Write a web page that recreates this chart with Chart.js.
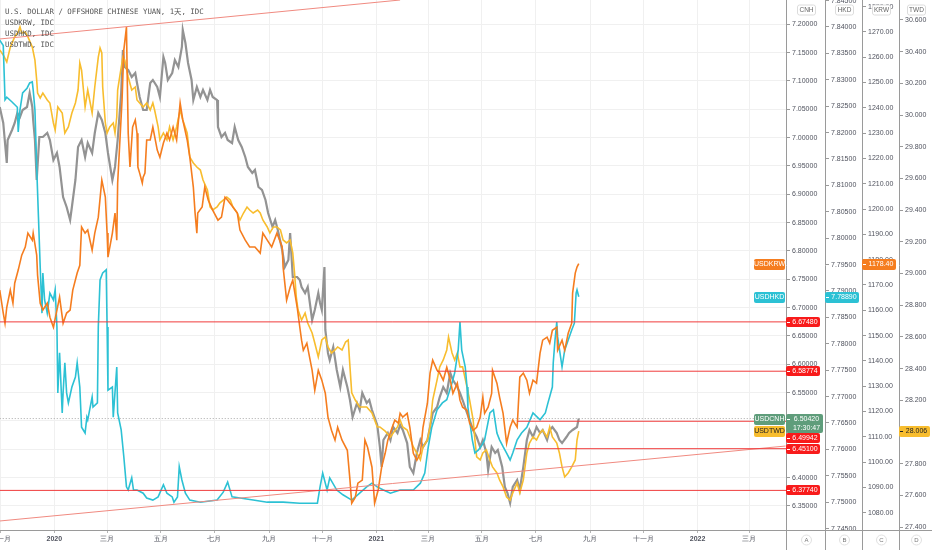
<!DOCTYPE html>
<html>
<head>
<meta charset="utf-8">
<script src="https://cdn.jsdelivr.net/npm/chart.js@4.4.1/dist/chart.umd.min.js"></script>
<style>
  html, body { margin: 0; padding: 0; background: #fff; overflow: hidden; }
  #wrap { width: 932px; height: 550px; position: relative; }
</style>
</head>
<body>
<div id="wrap"><canvas id="chart"></canvas></div>
<script>
// x values are days since 2020-01-01 (daily candles)
const tickDays  = [-61, 0, 60, 121, 182, 244, 305, 366, 425, 486, 547, 609, 670, 731, 790];
const tickNames = ['十一月', '2020', '三月', '五月', '七月', '九月', '十一月', '2021', '三月', '五月', '七月', '九月', '十一月', '2022', '三月'];

const cnhTicks = [6.35, 6.40, 6.45, 6.50, 6.55, 6.60, 6.65, 6.70, 6.75, 6.80, 6.85, 6.90, 6.95, 7.00, 7.05, 7.10, 7.15, 7.20];
const hkdTicks = [7.745, 7.750, 7.755, 7.760, 7.765, 7.770, 7.775, 7.780, 7.785, 7.790, 7.795, 7.800, 7.805, 7.810, 7.815, 7.820, 7.825, 7.830, 7.835, 7.840, 7.845];
const krwTicks = [1080, 1090, 1100, 1110, 1120, 1130, 1140, 1150, 1160, 1170, 1180, 1190, 1200, 1210, 1220, 1230, 1240, 1250, 1260, 1270, 1280];
const twdTicks = [27.4, 27.6, 27.8, 28.0, 28.2, 28.4, 28.6, 28.8, 29.0, 29.2, 29.4, 29.6, 29.8, 30.0, 30.2, 30.4, 30.6];

const cnhDays = [-62,-58,-54,-53,-48,-45,-42,-39,-36,-31,-28,-25,-24,-22,-20,-17,-13,-8,-5,-1,3,6,10,14,18,20,24,27,31,35,38,43,46,50,54,58,61,66,69,72,76,78,80,84,88,92,94,97,101,105,109,112,117,120,124,126,129,134,137,141,145,146,149,152,156,158,162,166,169,174,177,180,185,186,190,194,197,202,205,209,213,217,220,225,228,232,236,240,243,248,251,254,259,262,266,268,271,276,279,281,285,288,293,296,300,302,304,307,308,311,313,317,321,325,328,333,336,339,344,347,350,355,358,361,367,370,372,374,379,382,385,390,393,396,401,404,408,412,416,419,424,427,430,435,438,442,446,450,453,458,461,464,469,472,476,480,484,487,491,493,497,501,504,509,512,515,518,521,526,529,533,537,540,544,548,552,555,560,563,566,571,574,577,582,585,589,594,596];
const cnhClose = [7.0541,7.0258,6.9552,6.9958,7.0135,7.0258,7.0435,7.0364,7.0488,7.0541,7.0788,7.0541,7.0311,6.9958,6.9252,7.0011,7.0011,7.0082,6.9958,6.9605,6.9729,6.9482,6.8952,6.8776,6.8546,6.8776,6.9252,6.9835,6.9958,6.9658,6.9905,6.9729,7.0082,7.0435,7.0311,7.0082,6.9729,6.9252,6.9482,6.9958,7.0788,7.1547,7.1246,7.1194,7.1070,7.1141,7.0964,7.0717,7.0488,7.0488,7.0964,7.1017,7.0894,7.0717,7.1423,7.1317,7.1017,7.1141,7.1370,7.1246,7.1600,7.1900,7.1670,7.1317,7.1017,7.0664,7.0894,7.0717,7.0841,7.0664,7.0841,7.0717,7.0664,7.0188,7.0011,7.0082,6.9958,6.9905,7.0188,6.9958,6.9835,6.9658,6.9482,6.9376,6.9429,6.9129,6.9076,6.8899,6.8670,6.8423,6.8546,6.8370,6.8017,6.7717,6.7840,6.8317,6.7540,6.7540,6.7487,6.7364,6.7258,6.7364,6.6781,6.6958,6.7258,6.7081,6.6958,6.7717,6.6605,6.6199,6.6075,6.6305,6.5899,6.5599,6.5899,6.5599,6.5369,6.5069,6.5316,6.5193,6.5493,6.5316,6.5369,6.5193,6.4930,6.4540,6.4187,6.4663,6.4787,6.4663,6.4893,6.4787,6.4930,6.4840,6.4610,6.4187,6.4081,6.4434,6.4663,6.4540,6.4663,6.4893,6.5140,6.5246,6.5422,6.5599,6.5493,6.5846,6.5722,6.5599,6.5493,6.5369,6.5140,6.5016,6.4840,6.4716,6.4540,6.4663,6.4434,6.4134,6.4540,6.4434,6.4487,6.4187,6.3834,6.3728,6.3552,6.3834,6.3958,6.3781,6.4187,6.4663,6.4840,6.4716,6.4893,6.4787,6.4840,6.4663,6.4840,6.4893,6.4787,6.4663,6.4610,6.4716,6.4787,6.4840,6.4893,6.5042];

const krwDays = [-62,-58,-56,-54,-50,-47,-45,-41,-37,-33,-30,-25,-24,-20,-19,-16,-13,-8,-5,-1,3,6,10,14,18,21,26,29,31,35,38,43,46,50,54,58,60,61,66,69,71,72,75,77,79,82,83,84,86,89,92,94,95,97,100,101,103,105,109,112,117,120,124,128,131,135,139,143,146,151,154,158,160,162,163,168,171,175,180,186,190,194,197,203,208,211,217,222,228,234,237,242,247,253,259,260,264,268,271,276,279,281,283,287,293,296,300,304,308,311,315,319,322,327,333,336,338,342,345,350,353,356,361,364,368,372,376,379,384,387,391,393,396,401,404,408,412,416,419,424,427,430,435,438,442,446,450,453,458,461,464,469,472,476,480,484,487,489,493,497,498,503,506,510,514,518,521,526,529,533,537,540,544,548,552,555,560,563,566,571,572,577,580,584,588,589,592,594,596];
const krwClose = [1168.0,1158.9,1154.9,1161.2,1168.0,1162.8,1170.7,1175.9,1181.8,1185.0,1190.5,1187.7,1190.5,1181.8,1173.9,1162.8,1160.1,1162.8,1157.3,1153.3,1160.1,1165.2,1154.9,1158.9,1160.1,1168.0,1174.7,1177.8,1192.9,1190.5,1191.7,1183.8,1190.5,1196.8,1211.4,1204.7,1190.5,1181.0,1190.5,1198.4,1187.7,1210.3,1230.0,1243.1,1262.8,1271.9,1249.8,1230.0,1216.6,1232.4,1235.2,1230.0,1216.6,1214.2,1210.3,1212.6,1214.2,1227.3,1227.3,1232.4,1223.3,1220.5,1226.1,1230.0,1227.3,1232.4,1227.3,1241.9,1235.2,1227.3,1220.5,1208.7,1198.4,1190.5,1198.4,1200.8,1208.7,1203.5,1199.6,1195.6,1196.8,1204.7,1203.5,1200.8,1198.4,1191.7,1187.7,1185.0,1185.0,1182.6,1190.5,1187.7,1185.0,1190.5,1185.0,1177.1,1164.0,1169.1,1171.9,1161.2,1153.3,1148.2,1144.2,1147.0,1136.3,1128.4,1136.3,1132.4,1127.2,1117.8,1112.6,1108.7,1113.8,1108.7,1104.7,1092.9,1083.8,1086.1,1091.7,1092.9,1108.7,1105.9,1098.0,1083.8,1088.9,1098.0,1103.5,1108.7,1113.8,1116.6,1115.4,1119.3,1117.8,1119.3,1113.8,1103.5,1100.8,1103.5,1113.8,1123.3,1135.2,1140.3,1136.3,1135.2,1132.4,1137.5,1132.4,1127.2,1131.2,1124.5,1121.7,1120.5,1115.4,1112.6,1113.8,1117.8,1125.7,1119.3,1121.7,1127.2,1136.3,1131.2,1125.7,1119.3,1107.5,1113.8,1116.6,1113.8,1133.6,1135.2,1132.4,1127.2,1132.4,1131.2,1143.1,1148.2,1149.4,1147.0,1152.1,1153.3,1144.2,1148.2,1144.2,1150.9,1154.9,1166.8,1174.7,1177.1,1178.40];

const hkdDays = [-62,-58,-56,-54,-48,-42,-41,-39,-36,-31,-28,-25,-24,-22,-20,-18,-16,-14,-13,-11,-8,-5,-1,1,3,4,6,9,10,12,14,16,20,24,26,29,31,35,37,38,43,44,49,50,52,55,59,60,61,66,67,71,72,76,79,82,84,88,90,94,101,105,112,118,124,128,134,136,140,142,145,149,154,166,185,192,197,202,211,226,242,260,279,299,302,305,310,313,321,328,338,347,355,361,367,374,382,393,408,416,421,425,429,435,441,446,452,455,459,461,463,467,469,470,475,478,482,486,489,495,499,503,506,510,514,518,521,526,531,537,544,552,558,561,566,567,569,571,572,577,580,584,588,591,593,594,596];
const hkdClose = [7.8375,7.8365,7.8262,7.8267,7.8258,7.8248,7.8201,7.8243,7.8275,7.8284,7.8294,7.8296,7.8281,7.8243,7.8135,7.8040,7.7945,7.7858,7.7934,7.7883,7.7858,7.7896,7.7883,7.7902,7.7832,7.7707,7.7783,7.7669,7.7707,7.7764,7.7707,7.7688,7.7718,7.7737,7.7764,7.7718,7.7642,7.7631,7.7661,7.7656,7.7699,7.7680,7.7688,7.7832,7.7921,7.7934,7.7940,7.7832,7.7712,7.7718,7.7661,7.7756,7.7669,7.7637,7.7586,7.7529,7.7523,7.7546,7.7523,7.7523,7.7517,7.7508,7.7504,7.7510,7.7533,7.7517,7.7510,7.7500,7.7510,7.7567,7.7542,7.7517,7.7504,7.7500,7.7504,7.7519,7.7538,7.7510,7.7508,7.7504,7.7500,7.7500,7.7498,7.7498,7.7529,7.7555,7.7523,7.7546,7.7523,7.7514,7.7504,7.7517,7.7529,7.7536,7.7529,7.7523,7.7517,7.7523,7.7523,7.7536,7.7555,7.7605,7.7642,7.7675,7.7688,7.7694,7.7726,7.7745,7.7788,7.7841,7.7788,7.7756,7.7718,7.7680,7.7618,7.7593,7.7599,7.7608,7.7618,7.7669,7.7675,7.7631,7.7618,7.7605,7.7593,7.7580,7.7593,7.7618,7.7631,7.7642,7.7669,7.7656,7.7669,7.7688,7.7718,7.7764,7.7807,7.7841,7.7813,7.7756,7.7788,7.7807,7.7826,7.7839,7.7896,7.7902,7.7889];

const twdDays = [-62,-58,-54,-50,-45,-41,-39,-37,-33,-30,-25,-22,-20,-19,-16,-13,-8,-5,-1,1,4,9,12,16,20,24,27,29,31,35,38,43,46,50,52,54,55,58,60,63,67,69,71,72,75,78,80,84,88,92,94,97,101,105,109,112,114,118,120,124,128,131,135,139,143,146,151,154,158,162,166,169,174,177,180,185,188,192,196,200,203,208,211,215,219,222,226,231,234,237,242,245,249,253,257,260,264,268,271,273,275,277,281,285,288,293,296,300,304,308,311,315,319,322,327,331,334,336,338,342,347,355,361,367,370,376,382,390,393,396,401,404,408,412,416,419,424,427,430,435,438,442,446,448,452,455,458,461,464,469,472,476,478,480,484,487,491,495,498,503,506,510,514,518,521,526,529,533,537,540,544,548,552,555,560,563,566,571,574,577,580,584,588,592,594,596];
const twdClose = [30.411,30.379,30.335,30.429,30.493,30.524,30.556,30.518,30.524,30.493,30.429,30.347,30.221,30.139,30.108,30.139,30.095,30.076,29.950,29.906,30.051,30.013,29.887,29.925,30.013,30.076,30.158,30.329,30.284,30.051,30.158,30.013,30.177,30.366,30.423,30.392,30.177,29.950,29.887,29.925,29.950,29.887,29.988,30.158,30.265,30.366,30.347,30.240,30.158,30.177,30.095,30.076,30.051,30.076,30.032,30.076,30.032,29.925,29.843,29.887,29.843,29.925,29.843,29.925,30.032,29.969,29.887,29.735,29.698,29.672,29.653,29.590,29.527,29.420,29.401,29.420,29.445,29.464,29.483,29.464,29.420,29.382,29.338,29.382,29.420,29.401,29.382,29.401,29.382,29.338,29.294,29.256,29.294,29.294,29.275,29.212,29.193,29.212,29.130,29.004,28.852,28.770,28.707,28.751,28.688,28.625,28.562,28.474,28.581,28.600,28.537,28.499,28.518,28.537,28.518,28.568,28.581,28.411,28.247,28.202,28.158,28.158,28.120,28.032,28.032,28.006,27.969,28.032,28.076,28.032,28.013,27.969,27.906,27.868,27.824,27.906,27.950,28.032,28.202,28.329,28.411,28.455,28.518,28.600,28.499,28.455,28.499,28.411,28.411,28.284,28.202,28.076,27.950,27.843,27.824,27.868,27.888,27.824,27.780,27.742,27.698,27.654,27.590,27.571,27.616,27.679,27.616,27.698,27.868,27.931,27.969,27.950,27.994,28.013,27.969,28.032,27.969,27.931,27.868,27.780,27.717,27.742,27.780,27.824,27.950,28.006];

// drawn levels on the CNH scale
const levelValues    = [6.67480, 6.58774, 6.49942, 6.45100, 6.37740];
const levelStartDays = [-62, 435, 526, 524, -62];
const upperTrendDays = [-62, 393];
const upperTrendValues = [7.1741, 7.2429];
const lowerTrendDays = [-62, 831];
const lowerTrendValues = [6.3234, 6.4557];

const legendLines = ['U.S. DOLLAR / OFFSHORE CHINESE YUAN, 1天, IDC', 'USDKRW, IDC', 'USDHKD, IDC', 'USDTWD, IDC'];
const cnhCountdown = '17:30:47';

const COLORS = { cnh: '#939393', krw: '#f57d1f', hkd: '#2cc1d4', twd: '#f8bd2e', level: '#f03c3c', badge: '#f81b1b', trend: '#f08a80', green: '#5f9d7b' };
const FONT = "'Liberation Sans', Arial, sans-serif";
const X_MAX = 831.5;

const zip = (xs, ys) => xs.map((x, i) => ({ x, y: ys[i] }));
const last = arr => arr[arr.length - 1];

const seriesSet = (label, data, color, axis, width) => ({
    label, data, borderColor: color, borderWidth: width, pointRadius: 0, tension: 0, yAxisID: axis
});

const datasets = [
    ...levelValues.map((v, i) => seriesSet('level' + i, [{ x: levelStartDays[i], y: v }, { x: X_MAX, y: v }], COLORS.level, 'cnh', 1)),
    seriesSet('upper', zip(upperTrendDays, upperTrendValues), COLORS.trend, 'cnh', 1),
    seriesSet('lower', zip(lowerTrendDays, lowerTrendValues), COLORS.trend, 'cnh', 1),
    seriesSet('USDKRW', zip(krwDays, krwClose), COLORS.krw, 'krw', 1.6),
    seriesSet('USDHKD', zip(hkdDays, hkdClose), COLORS.hkd, 'hkd', 1.6),
    seriesSet('USDTWD', zip(twdDays, twdClose), COLORS.twd, 'twd', 1.6),
    seriesSet('USDCNH', zip(cnhDays, cnhClose), COLORS.cnh, 'cnh', 2.2),
    Object.assign(seriesSet('price', [{ x: -62, y: last(cnhClose) }, { x: X_MAX, y: last(cnhClose) }], '#a8a8a8', 'cnh', 1), { borderDash: [1, 2] })
];

const yAxis = (ticks, min, max, digits, width, weight, onArea) => ({
    type: 'linear', position: 'right', weight, min, max, bounds: 'data',
    afterBuildTicks: s => { s.ticks = ticks.map(v => ({ value: v })); },
    afterFit: s => { s.width = width; s.paddingTop = 0; s.paddingBottom = 0; },
    ticks: { autoSkip: false, padding: 2, color: '#50535e', font: { family: FONT, size: 7 }, callback: v => v.toFixed(digits) },
    grid: { drawOnChartArea: onArea, color: '#f0f0f0', tickColor: '#9a9a9a', tickLength: 4 },
    border: { display: true, color: '#9a9a9a' }
});

const Draw = {
    box: (ctx, x, y, w, h, fill, stroke) => {
        ctx.beginPath();
        if (ctx.roundRect) ctx.roundRect(x, y, w, h, 2); else ctx.rect(x, y, w, h);
        ctx.fillStyle = fill; ctx.fill();
        if (stroke) { ctx.strokeStyle = stroke; ctx.lineWidth = 1; ctx.stroke(); }
    },
    text: (ctx, txt, x, y, color, align = 'center', size = 7) => {
        ctx.font = `${size}px ${FONT}`;
        ctx.fillStyle = color; ctx.textAlign = align; ctx.textBaseline = 'middle';
        ctx.fillText(txt, x, y);
    },
    nameTag: (ctx, right, y, txt, fill, color) => {
        Draw.box(ctx, right - 31, Math.round(y) - 5, 31, 11, fill);
        Draw.text(ctx, txt, right - 15.5, Math.round(y) + 0.5, color);
    },
    valueTag: (ctx, scale, top, h, lines, fill, color, w) => {
        Draw.box(ctx, scale.left, top, w, h, fill);
        // small tick mark inside the tag, like the axis tick
        ctx.strokeStyle = color; ctx.lineWidth = 1;
        ctx.beginPath(); ctx.moveTo(scale.left + 1, top + 5.5); ctx.lineTo(scale.left + 4, top + 5.5); ctx.stroke();
        lines.forEach((l, i) => Draw.text(ctx, l, scale.left + w / 2 + 2, top + 5.5 + i * 9, color));
    }
};

const overlayPlugin = {
    id: 'overlay',
    afterDraw(chart) {
        const { ctx, chartArea, scales } = chart;
        const { cnh, hkd, krw, twd } = scales;
        ctx.save();

        // legend block
        ctx.font = "7.4px 'DejaVu Sans Mono', 'Noto Sans CJK SC', monospace";
        ctx.fillStyle = '#555'; ctx.textAlign = 'left'; ctx.textBaseline = 'middle';
        legendLines.forEach((l, i) => ctx.fillText(l, 5, 12.5 + i * 11));

        // axis separators down through the bottom row
        ctx.strokeStyle = '#9a9a9a'; ctx.lineWidth = 1;
        ctx.beginPath();
        [cnh, hkd, krw, twd].forEach(s => { const x = Math.round(s.left) + 0.5; ctx.moveTo(x, chartArea.bottom); ctx.lineTo(x, chart.height); });
        ctx.moveTo(chartArea.right, chartArea.bottom + 0.5); ctx.lineTo(chart.width, chartArea.bottom + 0.5);
        ctx.stroke();

        // axis headers and bottom letters
        [['CNH', cnh], ['HKD', hkd], ['KRW', krw], ['TWD', twd]].forEach(([name, s], i) => {
            const cx = (s.left + s.right) / 2 + 1;
            Draw.box(ctx, cx - 9, 5, 18, 10, '#fff', '#dcdcdc');
            Draw.text(ctx, name, cx, 10.5, '#666', 'center', 6.5);
            ctx.beginPath(); ctx.arc(cx, chartArea.bottom + 10, 5, 0, Math.PI * 2);
            ctx.fillStyle = '#fff'; ctx.fill(); ctx.strokeStyle = '#e0e0e0'; ctx.stroke();
            Draw.text(ctx, 'ABCD'[i], cx, chartArea.bottom + 10.5, '#777', 'center', 6);
        });

        // series name tags on the left of the price scale
        const right = chartArea.right - 1;
        Draw.nameTag(ctx, right, krw.getPixelForValue(last(krwClose)), 'USDKRW', COLORS.krw, '#fff');
        Draw.nameTag(ctx, right, hkd.getPixelForValue(last(hkdClose)), 'USDHKD', COLORS.hkd, '#fff');
        Draw.nameTag(ctx, right, cnh.getPixelForValue(last(cnhClose)), 'USDCNH', COLORS.green, '#fff');
        Draw.nameTag(ctx, right, twd.getPixelForValue(last(twdClose)), 'USDTWD', COLORS.twd, '#222');

        // price tags on each axis
        Draw.valueTag(ctx, krw, Math.round(krw.getPixelForValue(last(krwClose))) - 5, 11, [last(krwClose).toFixed(2)], COLORS.krw, '#fff', 34);
        Draw.valueTag(ctx, hkd, Math.round(hkd.getPixelForValue(last(hkdClose))) - 5, 11, [last(hkdClose).toFixed(5)], COLORS.hkd, '#fff', 34);
        Draw.valueTag(ctx, twd, Math.round(twd.getPixelForValue(last(twdClose))) - 5, 11, [last(twdClose).toFixed(3)], COLORS.twd, '#222', 31);

        const tags = levelValues.map(v => ({ y: cnh.getPixelForValue(v), h: 10, lines: [v.toFixed(5)], fill: COLORS.badge, w: 34 }));
        tags.push({ y: cnh.getPixelForValue(last(cnhClose)), h: 19, lines: [last(cnhClose).toFixed(5), cnhCountdown], fill: COLORS.green, w: 37 });
        tags.sort((a, b) => a.y - b.y);
        let floor = -Infinity;
        tags.forEach(t => {
            const top = Math.max(Math.round(t.y) - 5, floor);
            Draw.valueTag(ctx, cnh, top, t.h, t.lines, t.fill, '#fff', t.w);
            floor = top + t.h;
        });
        ctx.restore();
    }
};

new Chart(document.getElementById('chart'), {
    type: 'line',
    data: { datasets },
    plugins: [overlayPlugin],
    options: {
        responsive: true,
        maintainAspectRatio: false,
        animation: false,
        events: [],
        layout: { padding: 0 },
        plugins: { legend: { display: false }, tooltip: { enabled: false } },
        scales: {
            x: {
                type: 'linear', min: -61.7, max: X_MAX, bounds: 'data',
                afterBuildTicks: s => { s.ticks = tickDays.map(v => ({ value: v })); },
                afterFit: s => { s.height = 20; s.paddingLeft = 0; s.paddingRight = 0; },
                ticks: {
                    autoSkip: false, maxRotation: 0, minRotation: 0, padding: 2, color: '#50535e',
                    callback: (v, i) => tickNames[i],
                    font: c => ({ family: FONT, size: 7, weight: /^\d+$/.test(tickNames[c.index]) ? 'bold' : 'normal' })
                },
                grid: { color: '#f0f0f0', tickColor: '#b5b5b5', tickLength: 3 },
                border: { color: '#9a9a9a' }
            },
            cnh: yAxis(cnhTicks, 6.3075, 7.2429, 5, 39, 1, true),
            hkd: yAxis(hkdTicks, 7.74473, 7.84511, 5, 37, 2, false),
            krw: yAxis(krwTicks, 1073.2, 1282.6, 2, 37, 3, false),
            twd: yAxis(twdTicks, 27.382, 30.726, 3, 33, 4, false)
        }
    }
});
</script>
</body>
</html>
